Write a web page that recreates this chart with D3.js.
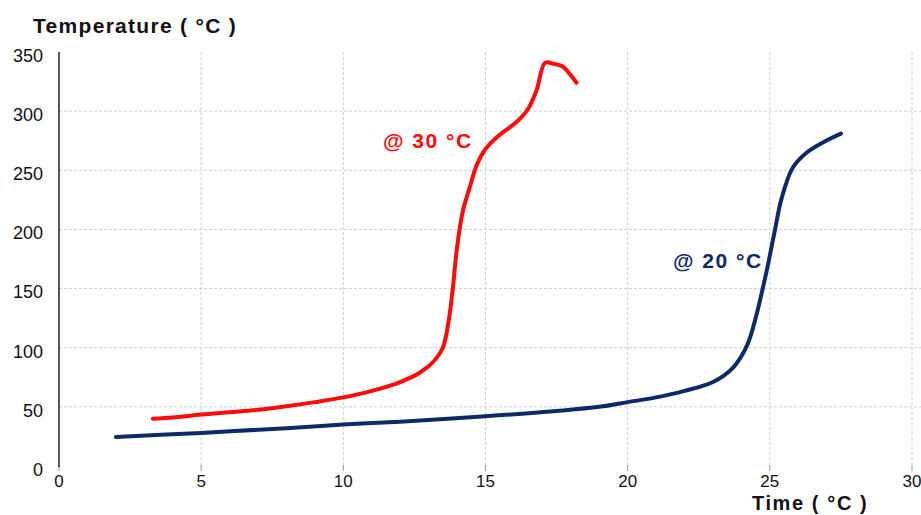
<!DOCTYPE html>
<html>
<head>
<meta charset="utf-8">
<script src="https://cdn.jsdelivr.net/npm/d3@7"></script>
<style>
  body { margin: 0; background: #fff; }
  svg { display: block; font-family: "Liberation Sans", Arial, sans-serif; }
</style>
</head>
<body>
<div id="chart"></div>
<script>
// time (x) and temperature (y)
var red30 = [[3.3,40],[4,41],[5,43.5],[6,45.5],[7,47.5],[8,50.5],[9,54],[10,58],[11,63.5],[12,71],[12.7,79],[13.2,89],[13.5,100],[13.7,122],[13.85,150],[14.0,185],[14.2,215],[14.45,236],[14.7,255],[15.0,268],[15.4,278],[16.1,291],[16.5,302],[16.8,318],[17.1,341],[17.4,340],[17.7,338],[18.2,324]];
var navy20 = [[2,24.5],[5,28],[8,32],[10,35],[12,37.5],[15,42],[17.5,46.5],[19,50],[20,54],[21,58],[22,63.5],[23,71],[23.7,83],[24.2,102],[24.5,125],[24.75,150],[24.95,172],[25.2,202],[25.4,225],[25.8,252],[26.3,265],[26.9,274],[27.5,281]];
var xTicks = [0, 5, 10, 15, 20, 25, 30];
var yTicks = [0, 50, 100, 150, 200, 250, 300, 350];

var width = 921, height = 515;
var svg = d3.select('#chart').append('svg')
    .attr('width', width)
    .attr('height', height);

var x = d3.scaleLinear().domain([0, 30]).range([59, 912]);
var y = d3.scaleLinear().domain([0, 350]).range([466, 52]);

// grid
svg.append('g').selectAll('line')
    .data(yTicks.filter(function(d) { return d > 0 && d < 350; }))
    .enter().append('line')
    .attr('x1', 59).attr('x2', width)
    .attr('y1', function(d) { return y(d); })
    .attr('y2', function(d) { return y(d); })
    .attr('stroke', '#c5d0de').attr('stroke-width', 1)
    .attr('stroke-dasharray', '3,2');

svg.append('g').selectAll('line')
    .data(xTicks.filter(function(d) { return d > 0; }))
    .enter().append('line')
    .attr('x1', function(d) { return x(d); })
    .attr('x2', function(d) { return x(d); })
    .attr('y1', 52).attr('y2', 466)
    .attr('stroke', '#c5d0de').attr('stroke-width', 1)
    .attr('stroke-dasharray', '3,2');

// small ticks under the plot
svg.append('g').selectAll('line')
    .data(xTicks)
    .enter().append('line')
    .attr('x1', function(d) { return x(d); })
    .attr('x2', function(d) { return x(d); })
    .attr('y1', 465).attr('y2', 471)
    .attr('stroke', '#999');

// y axis line
svg.append('line')
    .attr('x1', 59).attr('x2', 59)
    .attr('y1', 52).attr('y2', 467)
    .attr('stroke', '#000').attr('stroke-width', 1.3);

// tick labels
svg.append('g').selectAll('text')
    .data(yTicks)
    .enter().append('text')
    .attr('x', 43)
    .attr('y', function(d) { return y(d); })
    .attr('dy', '0.55em')
    .attr('text-anchor', 'end')
    .attr('font-size', 18)
    .attr('fill', '#111')
    .text(function(d) { return d; });

svg.append('g').selectAll('text')
    .data(xTicks)
    .enter().append('text')
    .attr('x', function(d) { return x(d); })
    .attr('y', 487)
    .attr('text-anchor', 'middle')
    .attr('font-size', 17)
    .attr('fill', '#111')
    .text(function(d) { return d; });

// curves
var line = d3.line()
    .x(function(d) { return x(d[0]); })
    .y(function(d) { return y(d[1]); })
    .curve(d3.curveCatmullRom);

svg.append('path')
    .datum(navy20)
    .attr('d', line)
    .attr('fill', 'none')
    .attr('stroke', '#0c2a68')
    .attr('stroke-width', 4)
    .attr('stroke-linecap', 'round');

svg.append('path')
    .datum(red30)
    .attr('d', line)
    .attr('fill', 'none')
    .attr('stroke', '#ff0a0a')
    .attr('stroke-width', 4)
    .attr('stroke-linecap', 'round');

// labels
svg.append('text')
    .attr('x', 383).attr('y', 148)
    .attr('font-size', 21).attr('font-weight', 'bold')
    .attr('letter-spacing', 1.5)
    .attr('fill', '#ff0a0a')
    .text('@ 30 °C');

svg.append('text')
    .attr('x', 673).attr('y', 268)
    .attr('font-size', 21).attr('font-weight', 'bold')
    .attr('letter-spacing', 1.5)
    .attr('fill', '#0c2a68')
    .text('@ 20 °C');

svg.append('text')
    .attr('x', 33).attr('y', 33)
    .attr('font-size', 21).attr('font-weight', 'bold')
    .attr('letter-spacing', 1.3)
    .attr('fill', '#111')
    .text('Temperature ( °C )');

svg.append('text')
    .attr('x', 752).attr('y', 510)
    .attr('font-size', 20).attr('font-weight', 'bold')
    .attr('letter-spacing', 1.6)
    .attr('fill', '#111')
    .text('Time ( °C )');
</script>
</body>
</html>
